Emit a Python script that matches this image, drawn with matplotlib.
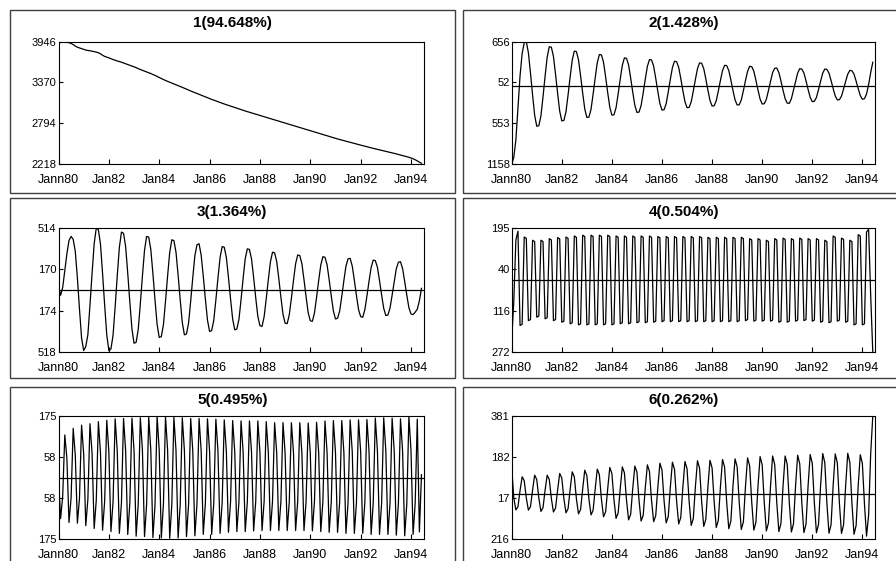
import numpy as np
import matplotlib.pyplot as plt
from matplotlib.patches import Rectangle

plt.rcParams['font.family'] = ['Liberation Sans', 'DejaVu Sans']

# composantes mensuelles, Jan 1980 -> Jun 1994 (174 mois)
comp1 = [3946, 3946, 3945, 3943, 3938, 3932, 3922, 3905, 3885, 3868, 3858, 3848,
         3838, 3828, 3822, 3818, 3812, 3806, 3799, 3790, 3775, 3755, 3738, 3728,
         3718, 3706, 3694, 3684, 3674, 3666, 3656, 3645, 3634, 3623, 3612, 3602,
         3590, 3580, 3565, 3553, 3541, 3530, 3519, 3508, 3496, 3482, 3470, 3456,
         3440, 3426, 3412, 3398, 3386, 3374, 3362, 3350, 3338, 3326, 3314, 3301,
         3288, 3275, 3262, 3250, 3238, 3226, 3214, 3202, 3190, 3178, 3166, 3154,
         3142, 3131, 3120, 3109, 3098, 3087, 3076, 3066, 3056, 3046, 3036, 3026,
         3016, 3006, 2996, 2986, 2976, 2967, 2958, 2949, 2940, 2931, 2922, 2913,
         2904, 2895, 2886, 2877, 2868, 2859, 2850, 2841, 2832, 2823, 2814, 2805,
         2796, 2787, 2778, 2769, 2760, 2751, 2742, 2733, 2724, 2715, 2706, 2697,
         2688, 2679, 2670, 2661, 2652, 2643, 2634, 2625, 2616, 2607, 2598, 2589,
         2580, 2572, 2564, 2556, 2548, 2540, 2532, 2524, 2516, 2508, 2500, 2492,
         2484, 2477, 2470, 2462, 2454, 2447, 2439, 2432, 2424, 2417, 2410, 2403,
         2396, 2389, 2382, 2375, 2368, 2361, 2353, 2345, 2337, 2329, 2321, 2313,
         2303, 2292, 2278, 2262, 2245, 2228]

comp2 = [-1158, -1060, -800, -330, 150, 480, 640, 656, 493, 192, -134, -435,
         -598, -590, -445, -162, 145, 428, 581, 575, 438, 174, -111, -375,
         -518, -512, -384, -135, 133, 382, 516, 510, 388, 152, -104, -340,
         -468, -462, -347, -122, 120, 345, 466, 460, 349, 133, -100, -316,
         -433, -428, -323, -119, 102, 306, 416, 410, 311, 117, -94, -288,
         -393, -388, -291, -103, 101, 289, 391, 385, 294, 114, -81, -261,
         -358, -353, -264, -90, 98, 272, 366, 360, 276, 111, -68, -233,
         -323, -318, -237, -77, 95, 255, 341, 336, 258, 105, -62, -215,
         -298, -294, -219, -75, 82, 227, 306, 301, 229, 88, -65, -206,
         -283, -279, -208, -71, 79, 216, 291, 286, 218, 84, -61, -195,
         -268, -264, -199, -70, 68, 197, 262, 266, 198, 72, -64, -190,
         -255, -258, -190, -64, 66, 190, 256, 250, 192, 75, -52, -169,
         -233, -229, -170, -54, 72, 188, 251, 245, 191, 81, -38, -148,
         -208, -204, -151, -46, 69, 174, 231, 225, 175, 72, -39, -142,
         -198, -190, -120, 20, 200, 351]

comp3 = [33, -45, 20, 160, 300, 410, 444, 420, 320, 100, -160, -400,
         -504, -470, -372, -127, 137, 382, 514, 500, 382, 137, -127, -372,
         -504, -490, -376, -140, 116, 352, 480, 470, 360, 138, -101, -323,
         -443, -435, -328, -115, 116, 329, 444, 438, 335, 134, -85, -286,
         -395, -388, -290, -95, 116, 311, 416, 410, 313, 124, -81, -270,
         -373, -366, -275, -93, 103, 285, 375, 383, 288, 114, -76, -250,
         -345, -338, -253, -84, 99, 268, 360, 354, 270, 104, -75, -241,
         -331, -325, -244, -82, 98, 260, 341, 336, 257, 103, -65, -219,
         -297, -303, -223, -75, 85, 233, 313, 308, 236, 94, -61, -203,
         -276, -280, -206, -69, 79, 216, 290, 285, 218, 86, -57, -189,
         -256, -261, -191, -62, 77, 206, 276, 271, 209, 85, -50, -174,
         -241, -236, -176, -55, 76, 197, 258, 262, 198, 81, -46, -163,
         -222, -227, -165, -51, 72, 186, 248, 243, 188, 77, -42, -153,
         -213, -209, -151, -44, 69, 176, 230, 234, 177, 70, -43, -148,
         -200, -205, -185, -160, -90, 13]

comp4 = [-228, -80, 150, 183, -171, -167, 161, 156, -153, -149, 149, 144,
         -140, -136, 149, 144, -146, -142, 155, 150, -153, -149, 159, 154,
         -159, -155, 161, 156, -165, -161, 165, 160, -169, -165, 168, 163,
         -169, -165, 168, 163, -169, -165, 168, 163, -169, -165, 168, 163,
         -169, -165, 165, 160, -165, -161, 165, 160, -165, -161, 165, 160,
         -161, -157, 165, 160, -161, -157, 165, 160, -159, -155, 163, 158,
         -157, -153, 163, 158, -157, -153, 163, 158, -157, -153, 163, 158,
         -157, -153, 163, 158, -157, -153, 163, 158, -157, -153, 160, 155,
         -157, -153, 160, 155, -157, -153, 160, 155, -157, -153, 160, 155,
         -157, -153, 160, 155, -153, -149, 155, 150, -155, -151, 155, 150,
         -155, -151, 149, 144, -155, -151, 155, 150, -159, -155, 157, 152,
         -159, -155, 155, 150, -155, -151, 157, 152, -153, -149, 155, 150,
         -155, -151, 155, 150, -159, -155, 149, 144, -161, -157, 165, 160,
         -155, -151, 157, 152, -159, -155, 149, 144, -169, -165, 170, 165,
         -169, -165, 180, 190, -60, -272]

comp5 = [0, -117, -53, 121, 54, -128, -58, 140, 63, -130, -59, 149,
         67, -137, -62, 153, 69, -145, -65, 159, 72, -150, -68, 163,
         73, -154, -69, 167, 75, -159, -72, 168, 76, -162, -73, 169,
         76, -167, -75, 170, 77, -168, -76, 172, 77, -171, -77, 174,
         78, -172, -77, 173, 78, -173, -78, 171, 77, -172, -77, 170,
         77, -168, -76, 168, 76, -166, -75, 168, 76, -162, -73, 167,
         75, -162, -73, 166, 75, -159, -72, 164, 74, -156, -70, 162,
         73, -154, -69, 161, 72, -154, -69, 161, 72, -152, -68, 161,
         72, -151, -68, 159, 72, -151, -68, 156, 70, -151, -68, 156,
         70, -151, -68, 156, 70, -151, -68, 156, 70, -151, -68, 155,
         70, -152, -68, 157, 71, -154, -69, 161, 72, -156, -70, 162,
         73, -156, -70, 162, 73, -159, -72, 164, 74, -159, -72, 164,
         74, -159, -72, 165, 74, -162, -73, 169, 76, -162, -73, 170,
         77, -162, -73, 169, 76, -164, -74, 167, 75, -166, -75, 173,
         78, -162, -73, 166, -155, 8]

comp6 = [134, -17, -75, -59, 19, 86, 67, -17, -76, -59, 21, 94,
         73, -18, -82, -64, 21, 94, 73, -19, -85, -66, 22, 102,
         80, -20, -89, -69, 24, 110, 86, -21, -94, -73, 26, 118,
         92, -22, -99, -77, 27, 123, 96, -24, -108, -84, 29, 131,
         102, -26, -116, -90, 29, 134, 105, -27, -123, -96, 30, 138,
         108, -28, -129, -101, 32, 144, 112, -29, -132, -103, 33, 152,
         119, -30, -138, -108, 35, 157, 122, -31, -143, -112, 35, 160,
         125, -33, -150, -117, 36, 164, 128, -34, -155, -121, 37, 166,
         129, -35, -160, -125, 37, 170, 133, -37, -166, -129, 38, 173,
         135, -37, -170, -133, 39, 178, 139, -38, -173, -135, 40, 184,
         144, -39, -177, -138, 41, 187, 146, -40, -180, -140, 41, 187,
         146, -40, -182, -142, 42, 191, 149, -41, -185, -144, 43, 194,
         151, -41, -186, -145, 44, 199, 155, -41, -188, -147, 43, 197,
         154, -42, -189, -147, 44, 200, 156, -42, -193, -151, 42, 193,
         151, -44, -202, -100, 200, 381]

series = [comp1, comp2, comp3, comp4, comp5, comp6]
titles = ["1(94.648%)", "2(1.428%)", "3(1.364%)", "4(0.504%)", "5(0.495%)", "6(0.262%)"]
y_ranges = [(2218, 3946), (-1158, 656), (-518, 514), (-272, 195), (-175, 175), (-216, 381)]
y_labels = [["2218", "2794", "3370", "3946"],
            ["1158", "553", "52", "656"],
            ["518", "174", "170", "514"],
            ["272", "116", "40", "195"],
            ["175", "58", "58", "175"],
            ["216", "17", "182", "381"]]
x_tick_pos = [0, 24, 48, 72, 96, 120, 144, 168]
x_labels = ["Jann80", "Jan82", "Jan84", "Jan86", "Jan88", "Jan90", "Jan92", "Jan94"]

# mise en page en pixels
W, H = 896, 561
col_px = [(58.5, 424), (511.7, 875.3)]
row_px = [(41.7, 164), (228, 352.3), (416, 539)]
frame_col = [(9.5, 455), (462.7, 905)]
frame_row = [(10, 192.7), (198.3, 378), (386.7, 570)]
title_y = [22.7, 211.7, 400]

fig = plt.figure(figsize=(W / 100, H / 100), dpi=100)

for i, y in enumerate(series):
    r, c = divmod(i, 2)
    fx0, fx1 = frame_col[c]
    fy0, fy1 = frame_row[r]
    fig.add_artist(Rectangle((fx0 / W, 1 - fy1 / H), (fx1 - fx0) / W, (fy1 - fy0) / H,
                             transform=fig.transFigure, fill=False,
                             edgecolor='#404040', lw=1))
    x0, x1 = col_px[c]
    y0, y1 = row_px[r]
    ax = fig.add_axes([x0 / W, 1 - y1 / H, (x1 - x0) / W, (y1 - y0) / H])
    ax.plot(np.arange(len(y)), y, color='black', lw=0.9)
    if i > 0:
        ax.axhline(0, color='black', lw=0.9)
    ax.set_xlim(0, 174.2)
    ax.set_ylim(*y_ranges[i])
    ax.set_yticks(np.linspace(y_ranges[i][0], y_ranges[i][1], 4))
    ax.set_yticklabels(y_labels[i])
    ax.set_xticks(x_tick_pos)
    ax.set_xticklabels(x_labels)
    ax.tick_params(axis='x', direction='in', length=3.5, width=0.8, pad=7, labelsize=9)
    ax.tick_params(axis='y', direction='in', length=3, width=0.8, pad=1.5, labelsize=8)
    for s in ax.spines.values():
        s.set_linewidth(0.8)
    fig.text((fx0 + fx1) / 2 / W, 1 - title_y[r] / H, titles[i],
             ha='center', va='center', fontweight='bold', fontsize=11)

fig.savefig('out.png', dpi=100)
